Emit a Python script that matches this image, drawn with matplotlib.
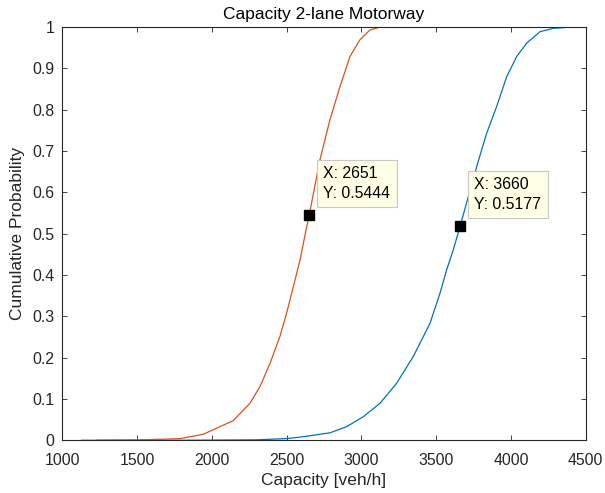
import matplotlib
matplotlib.use('Agg')
import matplotlib.pyplot as plt
from matplotlib.ticker import FuncFormatter

plt.rcParams['font.family'] = ['Liberation Sans', 'DejaVu Sans']

# capacity distributions
cap_blue = [1130, 1800, 2298, 2498, 2600, 2790, 2902, 3013, 3125, 3236, 3347, 3459,
            3526, 3570, 3615, 3660, 3775, 3838, 3905, 3972, 4039, 4105, 4195, 4284,
            4395, 4430]
prob_blue = [0, 0, 0.001, 0.004, 0.008, 0.018, 0.033, 0.057, 0.0896, 0.138, 0.2025, 0.283,
             0.356, 0.412, 0.461, 0.5177, 0.667, 0.743, 0.808, 0.880, 0.929, 0.961, 0.989, 0.997,
             1.0, 1.0]

cap_orange = [1230, 1500, 1720, 1788, 1943, 2143, 2255, 2322, 2389, 2455, 2500, 2545,
              2590, 2630, 2651, 2723, 2790, 2857, 2924, 2990, 3057, 3124, 3190]
prob_orange = [0, 0.001, 0.003, 0.004, 0.0145, 0.0475, 0.0896, 0.130, 0.186, 0.251, 0.3075, 0.372,
               0.4366, 0.509, 0.5444, 0.679, 0.776, 0.856, 0.929, 0.969, 0.993, 1.0, 1.0]

# data tips
tips = [(2651, 0.5444), (3660, 0.5177)]

fig = plt.figure(figsize=(6.05, 4.93), dpi=100)
ax = fig.add_axes([0.103, 0.107, 0.865, 0.838])

ax.plot(cap_blue, prob_blue, color='#0072BD', lw=0.9)
ax.plot(cap_orange, prob_orange, color='#D95319', lw=0.9)

for tx, ty in tips:
    ax.plot(tx, ty, 's', color='black', ms=7.5)
    ax.annotate('X: %d\nY: %.4f' % (tx, ty), xy=(tx, ty), xytext=(10.3, 10.3),
                textcoords='offset points', ha='left', va='bottom', fontsize=11.4,
                color='black', linespacing=1.4,
                bbox=dict(boxstyle='square,pad=0.4', fc='#FFFFE6', ec='#C8C8C8', lw=0.8))

ax.set_xlim(1000, 4500)
ax.set_ylim(0, 1)
ax.set_xticks(range(1000, 4501, 500))
ax.set_yticks([i / 10 for i in range(11)])
ax.yaxis.set_major_formatter(FuncFormatter(lambda v, p: '%g' % round(v, 1)))

dark = '#262626'
for s in ax.spines.values():
    s.set_color(dark)
    s.set_linewidth(0.8)
ax.tick_params(direction='in', length=3.6, width=0.6, colors=dark, labelsize=11.4,
               top=True, right=True)
ax.tick_params(axis='x', pad=9.5)
ax.tick_params(axis='y', pad=5.5)

ax.set_title('Capacity 2-lane Motorway', fontsize=12.5, color='black', pad=6)
ax.set_xlabel('Capacity [veh/h]', fontsize=12.5, color=dark, labelpad=3.5)
ax.set_ylabel('Cumulative Probability', fontsize=12.5, color=dark, labelpad=5.5)

fig.savefig('out.png', dpi=100)
